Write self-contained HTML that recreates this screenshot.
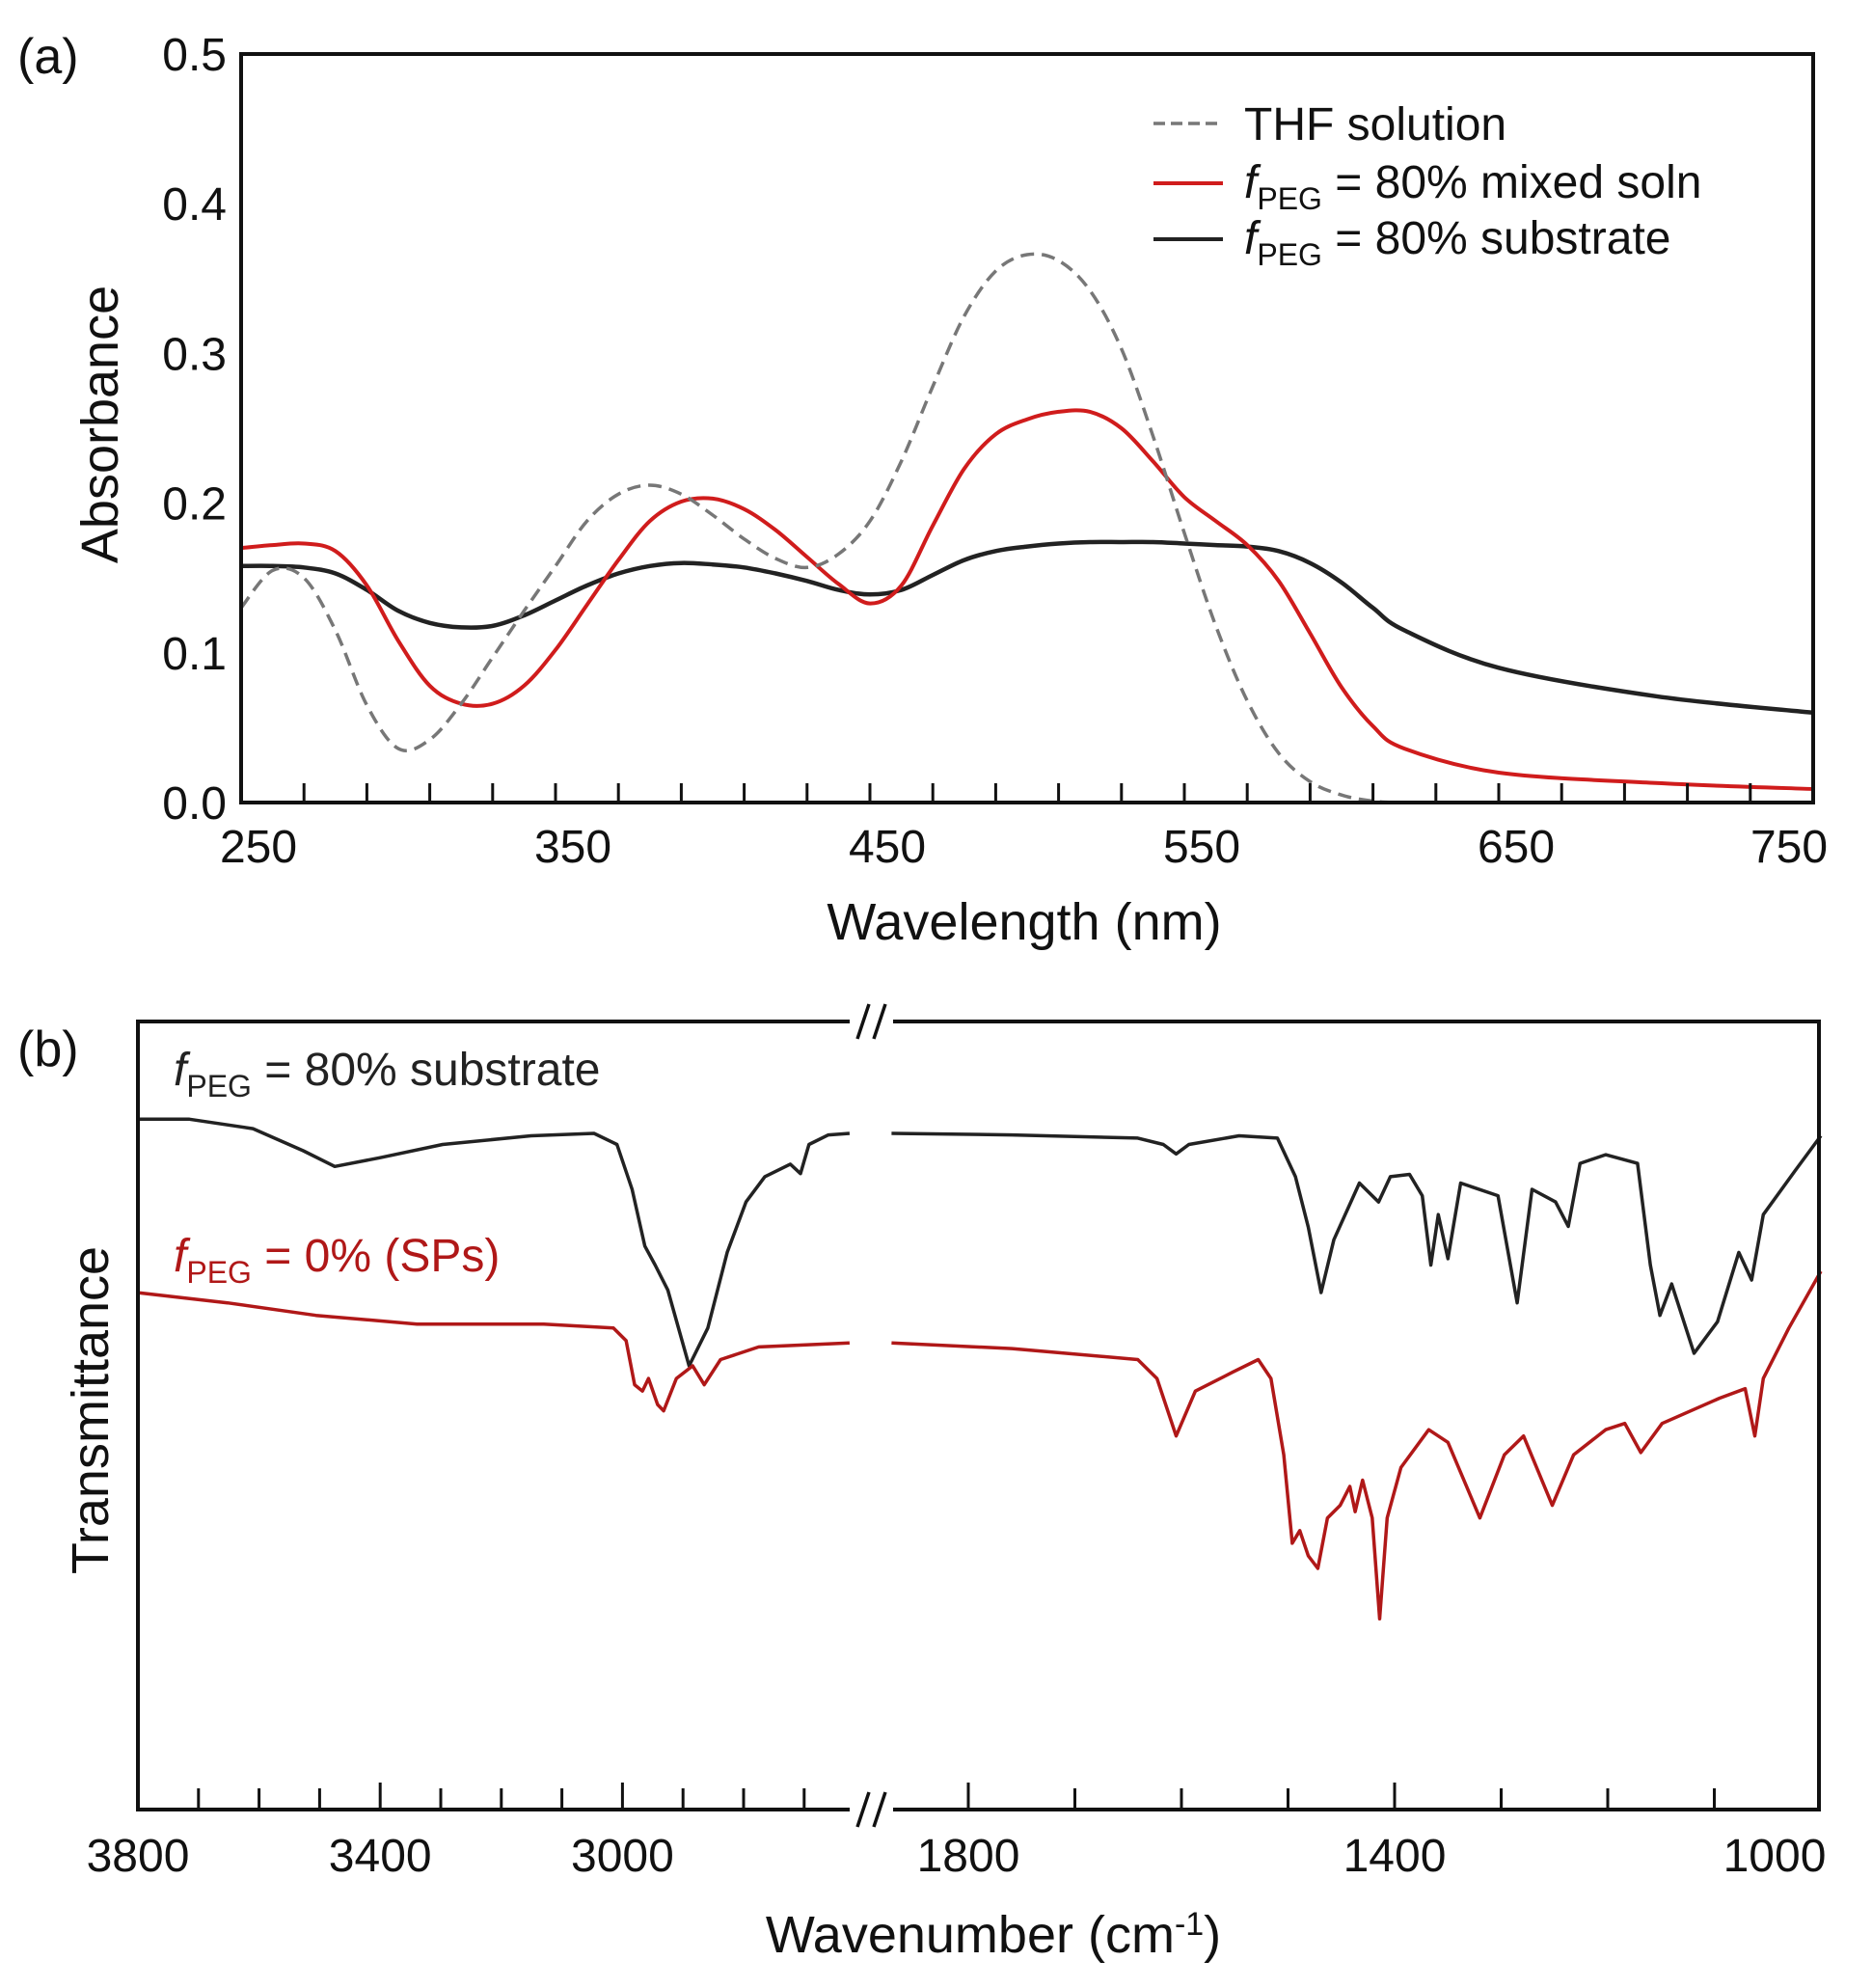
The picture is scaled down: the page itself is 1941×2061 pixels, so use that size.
<!DOCTYPE html>
<html><head><meta charset="utf-8"><style>
html,body{margin:0;padding:0;background:#fff;}
svg{display:block;font-family:"Liberation Sans",Arial,sans-serif;}
</style></head><body>
<svg id="fig" width="1941" height="2061" viewBox="0 0 1941 2061" xmlns="http://www.w3.org/2000/svg">
<g id="pa"></g>
<g id="pb"></g>
</svg>
<script>
// ---- Panel (a) data ----
const wlA = [250,260,270,280,290,300,310,320,330,340,350,360,370,380,390,400,410,420,430,440,450,460,470,480,490,500,510,520,530,540,550,560,570,580,590,600,610,620,650,700,750];
const thfAbs = [0.13,0.155,0.15,0.115,0.065,0.036,0.042,0.066,0.097,0.128,0.158,0.188,0.206,0.212,0.206,0.192,0.176,0.163,0.157,0.166,0.188,0.228,0.278,0.325,0.355,0.366,0.362,0.342,0.303,0.245,0.18,0.118,0.068,0.033,0.014,0.005,0.001,0,0,0,0];
const mixAbs = [0.17,0.172,0.173,0.168,0.145,0.108,0.078,0.066,0.066,0.078,0.102,0.132,0.162,0.188,0.201,0.203,0.196,0.182,0.164,0.146,0.133,0.145,0.185,0.223,0.246,0.256,0.261,0.261,0.25,0.228,0.204,0.188,0.172,0.148,0.113,0.077,0.051,0.036,0.02,0.013,0.009];
const subAbs = [0.158,0.158,0.157,0.153,0.142,0.128,0.12,0.117,0.118,0.125,0.135,0.145,0.153,0.158,0.16,0.159,0.157,0.153,0.148,0.142,0.139,0.142,0.152,0.162,0.168,0.171,0.173,0.174,0.174,0.174,0.173,0.172,0.171,0.168,0.16,0.147,0.13,0.115,0.09,0.071,0.06];
const xTicksA = [250,350,450,550,650,750];
const yTicksA = [0.0,0.1,0.2,0.3,0.4,0.5];
// ---- Panel (b) data ----
const subWnL = [3802,3715,3610,3527,3475,3401,3297,3151,3047,3009,2984,2963,2946,2925,2890,2859,2827,2796,2765,2723,2706,2692,2660,2625];
const subTL  = [87.6,87.6,86.4,83.6,81.6,82.7,84.4,85.5,85.8,84.4,78.7,71.5,69.1,65.9,56.3,61.1,70.7,77.1,80.3,81.9,80.7,84.4,85.6,85.8];
const subWnR = [1872,1759,1641,1617,1605,1593,1546,1510,1493,1481,1469,1457,1433,1415,1404,1386,1374,1366,1359,1350,1338,1303,1285,1271,1249,1237,1226,1202,1172,1160,1151,1140,1119,1097,1077,1065,1054,1024,1000];
const subTR  = [85.8,85.6,85.2,84.4,83.2,84.4,85.5,85.2,80.3,73.9,65.6,72.3,79.5,77.1,80.3,80.6,77.9,69.1,75.5,69.9,79.5,77.9,64.3,78.7,77.1,74.0,82.0,83.1,82.0,69.1,62.7,66.7,57.9,61.9,70.7,67.2,75.5,81.1,85.5];
const spWnL = [3802,3652,3506,3339,3130,3015,2994,2980,2967,2957,2942,2932,2911,2884,2865,2838,2775,2625];
const spTL  = [65.6,64.3,62.7,61.6,61.6,61.1,59.5,53.9,53.1,54.7,51.4,50.6,54.7,56.3,53.9,57.1,58.7,59.2];
const spWnR = [1872,1759,1641,1623,1605,1587,1552,1528,1516,1504,1496,1489,1481,1472,1463,1451,1442,1437,1430,1421,1414,1407,1394,1368,1350,1320,1297,1279,1252,1232,1202,1184,1169,1149,1095,1071,1062,1054,1030,1000];
const spTR  = [59.2,58.5,57.1,54.7,47.4,53.1,55.5,57.1,54.7,45.0,33.8,35.4,32.2,30.6,37.0,38.6,41.0,37.8,41.8,37.0,24.2,37.0,43.4,48.2,46.6,37.0,45.0,47.4,38.6,45.0,48.2,49.0,45.3,49.0,52.2,53.4,47.4,54.7,61.1,68.3];
const xTicksBL = [3800,3400,3000];
const xTicksBR = [1800,1400,1000];

const NS="http://www.w3.org/2000/svg";
function mk(parent,tag,attrs,text){const e=document.createElementNS(NS,tag);for(const k in attrs)e.setAttribute(k,attrs[k]);if(text!==undefined)e.textContent=text;parent.appendChild(e);return e;}
function smooth(pts){let d='M'+pts[0][0].toFixed(1)+' '+pts[0][1].toFixed(1);
 for(let i=0;i<pts.length-1;i++){const p0=pts[i-1]||pts[i],p1=pts[i],p2=pts[i+1],p3=pts[i+2]||p2;
  const c1=[p1[0]+(p2[0]-p0[0])/6,p1[1]+(p2[1]-p0[1])/6],c2=[p2[0]-(p3[0]-p1[0])/6,p2[1]-(p3[1]-p1[1])/6];
  d+=` C${c1[0].toFixed(1)} ${c1[1].toFixed(1)} ${c2[0].toFixed(1)} ${c2[1].toFixed(1)} ${p2[0].toFixed(1)} ${p2[1].toFixed(1)}`;}
 return d;}

// ---------- Panel A ----------
const pa=document.getElementById('pa');
const AL=250,AR=1880,AT=56,AB=832;
const xa=v=>AL+(v-250)*(AR-AL)/500;
const ya=v=>AB-v*(AB-AT)/0.5;
function pathA(xs,ys){return smooth(xs.map((x,i)=>[xa(x),ya(ys[i])]));}
let s=mk(pa,'path',{d:pathA(wlA,subAbs),fill:'none',stroke:'#222','stroke-width':4.5,'stroke-linejoin':'round'});

s=mk(pa,'path',{d:pathA(wlA,mixAbs),fill:'none',stroke:'#d01c1c','stroke-width':4,'stroke-linejoin':'round'});

s=mk(pa,'path',{d:pathA(wlA,thfAbs),fill:'none',stroke:'#777','stroke-width':3.5,'stroke-dasharray':'14 8'});

s=mk(pa,'rect',{x:AL,y:AT,width:AR-AL,height:AB-AT,fill:'none',stroke:'#111','stroke-width':4});

for(let v=270;v<750;v+=20){const t=mk(pa,'line',{x1:xa(v),x2:xa(v),y1:AB,y2:AB-20,stroke:'#111','stroke-width':3});
}
xTicksA.forEach(v=>{const t=mk(pa,'text',{x:Math.min(xa(v)+18,AR-25),y:894,'text-anchor':'middle','font-size':48,fill:'#111'},String(v));
});
yTicksA.forEach(v=>{const t=mk(pa,'text',{x:235,y:ya(v)+17,'text-anchor':'end','font-size':48,fill:'#111'},v.toFixed(1));
});
s=mk(pa,'text',{x:1062,y:974,'text-anchor':'middle','font-size':54,fill:'#111'},'Wavelength (nm)');

s=mk(pa,'text',{x:0,y:0,'text-anchor':'middle','font-size':54,fill:'#111',transform:'translate(122,440) rotate(-90)'},'Absorbance');

s=mk(pa,'text',{x:18,y:76,'font-size':52,fill:'#111'},'(a)');

// legend
const lg=mk(pa,'g',{});

s=mk(lg,'line',{x1:1196,x2:1268,y1:128,y2:128,stroke:'#777','stroke-width':3.5,'stroke-dasharray':'12 6'});

s=mk(lg,'text',{x:1290,y:145,'font-size':48,fill:'#111'},'THF solution');

s=mk(lg,'line',{x1:1196,x2:1268,y1:190,y2:190,stroke:'#d01c1c','stroke-width':4});

s=mk(lg,'text',{x:1290,y:205,'font-size':48,fill:'#111'});
s.innerHTML='<tspan font-style="italic">f</tspan><tspan font-size="32" dy="12">PEG</tspan><tspan dy="-12"> = 80% mixed soln</tspan>';

s=mk(lg,'line',{x1:1196,x2:1268,y1:248,y2:248,stroke:'#222','stroke-width':4});

s=mk(lg,'text',{x:1290,y:263,'font-size':48,fill:'#111'});
s.innerHTML='<tspan font-style="italic">f</tspan><tspan font-size="32" dy="12">PEG</tspan><tspan dy="-12"> = 80% substrate</tspan>';


// ---------- Panel B ----------
const pb=document.getElementById('pb');
const BL=143,BR=1886,BT=1059,BB=1876,BRK1=881,BRK2=926;
const xbl=v=>BL+(3800-v)*0.628;
const xbr=v=>1004+(1800-v)*1.105;
const yb=v=>BB-v*(BB-BT)/100;
function pathB(xs,ys,fx){return xs.map((x,i)=>(i?'L':'M')+fx(x).toFixed(1)+' '+yb(ys[i]).toFixed(1)).join(' ');}
[[subWnL,subTL,xbl,'#222','substrate-ftir-left'],[subWnR,subTR,xbr,'#222','substrate-ftir-right'],
 [spWnL,spTL,xbl,'#b01818','sps-ftir-left'],[spWnR,spTR,xbr,'#b01818','sps-ftir-right']].forEach(c=>{
 const p=mk(pb,'path',{d:pathB(c[0],c[1],c[2]),fill:'none',stroke:c[3],'stroke-width':3.5,'stroke-linejoin':'round'});
 
 
});
s=mk(pb,'path',{d:`M${BRK1} ${BT} L${BL} ${BT} L${BL} ${BB} L${BRK1} ${BB} M${BRK2} ${BT} L${BR} ${BT} L${BR} ${BB} L${BRK2} ${BB}`,fill:'none',stroke:'#111','stroke-width':4});

[BT,BB].forEach(y=>{[895,912].forEach(x=>{const l=mk(pb,'line',{x1:x-6,y1:y+18,x2:x+6,y2:y-18,stroke:'#111','stroke-width':3.5});
});});
for(let v=3700;v>=2700;v-=100){const t=mk(pb,'line',{x1:xbl(v),x2:xbl(v),y1:BB,y2:BB-(v%400===200?28:22),stroke:'#111','stroke-width':3});
}
for(let v=1800;v>1000;v-=100){const t=mk(pb,'line',{x1:xbr(v),x2:xbr(v),y1:BB,y2:BB-(v%400===200?28:22),stroke:'#111','stroke-width':3});
}
xTicksBL.forEach(v=>{const t=mk(pb,'text',{x:Math.max(xbl(v),130),y:1940,'text-anchor':'middle','font-size':48,fill:'#111'},String(v));
});
xTicksBR.forEach(v=>{const t=mk(pb,'text',{x:Math.min(xbr(v),1840),y:1940,'text-anchor':'middle','font-size':48,fill:'#111'},String(v));
});
s=mk(pb,'text',{x:1030,y:2024,'text-anchor':'middle','font-size':54,fill:'#111'});
s.innerHTML='Wavenumber (cm<tspan font-size="34" dy="-18">-1</tspan><tspan dy="18">)</tspan>';

s=mk(pb,'text',{x:0,y:0,'text-anchor':'middle','font-size':54,fill:'#111',transform:'translate(112,1462) rotate(-90)'},'Transmittance');

s=mk(pb,'text',{x:18,y:1105,'font-size':52,fill:'#111'},'(b)');

s=mk(pb,'text',{x:180,y:1125,'font-size':48,fill:'#222'});
s.innerHTML='<tspan font-style="italic">f</tspan><tspan font-size="32" dy="12">PEG</tspan><tspan dy="-12"> = 80% substrate</tspan>';

s=mk(pb,'text',{x:180,y:1318,'font-size':48,fill:'#b01818'});
s.innerHTML='<tspan font-style="italic">f</tspan><tspan font-size="32" dy="12">PEG</tspan><tspan dy="-12"> = 0% (SPs)</tspan>';

</script>
</body></html>
